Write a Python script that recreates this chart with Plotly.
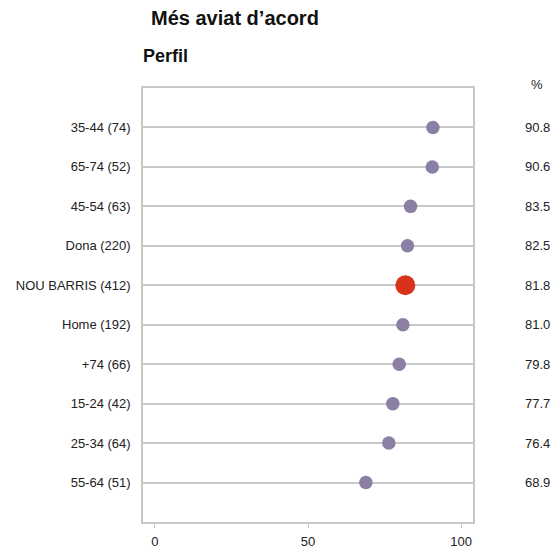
import plotly.graph_objects as go

categories = ["35-44 (74)", "65-74 (52)", "45-54 (63)", "Dona (220)", "NOU BARRIS (412)",
              "Home (192)", "+74 (66)", "15-24 (42)", "25-34 (64)", "55-64 (51)"]
values = [90.8, 90.6, 83.5, 82.5, 81.8, 81.0, 79.8, 77.7, 76.4, 68.9]
highlight = "NOU BARRIS (412)"
x_ticks = [0, 50, 100]

PURPLE = "#8b7fa3"
RED = "#d9321a"
GRID = "#c8c8c8"
FONT = "Liberation Sans, Arial, sans-serif"

W, H = 560, 548
L, R, T, B = 143, 87, 88, 26
PW, PH = W - L - R, H - T - B


def px_x(px):
    return (px - L) / PW


def px_y(py):
    return (H - B - py) / PH


colors = [RED if c == highlight else PURPLE for c in categories]
sizes = [20 if c == highlight else 13.5 for c in categories]

fig = go.Figure()
fig.add_trace(go.Scatter(
    x=values, y=categories, mode="markers",
    marker=dict(color=colors, size=sizes, opacity=1, line=dict(width=0)),
    showlegend=False, hoverinfo="x+y",
))

annotations = []
for c, v in zip(categories, values):
    annotations.append(dict(
        x=px_x(537.5), y=c, xref="paper", yref="y", text=f"{v:.1f}",
        showarrow=False, xanchor="center", yanchor="middle",
        font=dict(size=13, color="#222", family=FONT),
    ))
annotations.append(dict(
    x=px_x(537), y=px_y(84), xref="paper", yref="paper", text="%",
    showarrow=False, xanchor="center", yanchor="middle",
    font=dict(size=13, color="#222", family=FONT),
))
annotations.append(dict(
    x=px_x(151), y=px_y(18), xref="paper", yref="paper",
    text="<b>Més aviat d’acord</b>", showarrow=False, xanchor="left", yanchor="middle",
    xshift=-2, font=dict(size=20, color="#111", family=FONT),
))
annotations.append(dict(
    x=px_x(143), y=px_y(56), xref="paper", yref="paper",
    text="<b>Perfil</b>", showarrow=False, xanchor="left", yanchor="middle",
    xshift=-2, font=dict(size=18, color="#111", family=FONT),
))

fig.update_layout(
    width=W, height=H,
    margin=dict(l=L, r=R, t=T, b=B, autoexpand=False),
    paper_bgcolor="white", plot_bgcolor="white",
    font=dict(family=FONT, size=13, color="#222"),
    annotations=annotations,
)

fig.update_xaxes(
    range=[-3.9, 103.9], tickvals=x_ticks, showgrid=False, zeroline=False,
    showline=True, linecolor=GRID, linewidth=1.5, mirror=True,
    ticks="outside", ticklen=4, tickcolor=GRID, tickwidth=1,
    tickfont=dict(size=13, color="#222"), ticklabelstandoff=3,
    fixedrange=True, automargin=False,
)
fig.update_yaxes(
    categoryorder="array", categoryarray=categories,
    range=[len(categories), -1], showgrid=True, gridcolor=GRID, gridwidth=1.5,
    zeroline=False, showline=True, linecolor=GRID, linewidth=1.5, mirror=True,
    ticks="", tickfont=dict(size=13, color="#222"), ticklabelstandoff=8,
    fixedrange=True, automargin=False,
)

fig.write_html(
    "out.html",
    config={"displayModeBar": False},
    post_script="document.body.style.margin='0';document.body.style.overflow='hidden';",
)
